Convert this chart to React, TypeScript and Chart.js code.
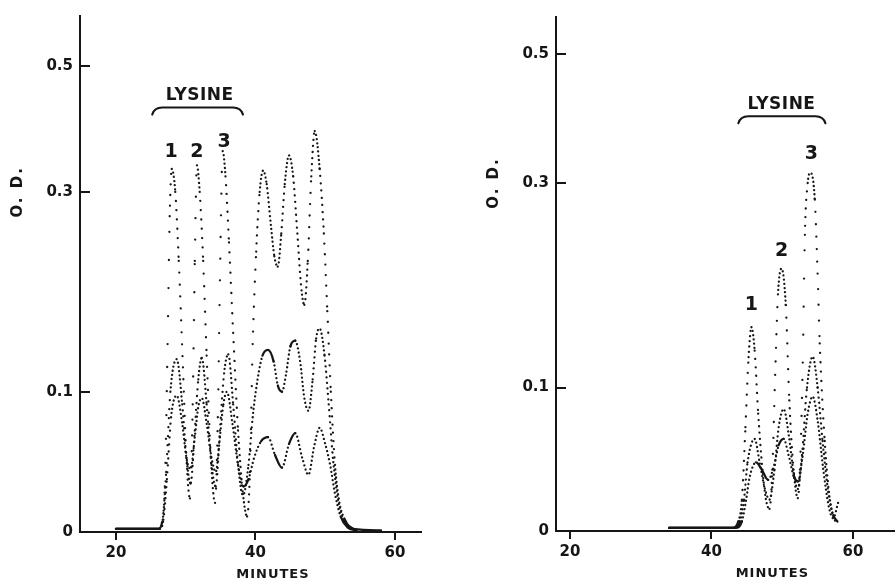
import React, { useEffect, useRef } from 'react';
import { Chart, registerables, LinearScale } from 'chart.js';

Chart.register(...registerables);

// ---- Y scale: chart paper is linear in transmittance, labelled in optical density ----
class TransmittanceScale extends LinearScale {
  static id = 'transmittance';
  static defaults = LinearScale.defaults;
  getPixelForValue(value: any) {
    if (value === null || value === undefined || Number.isNaN(value)) return NaN;
    const span = 1 - Math.pow(10, -this.max);
    return this.getPixelForDecimal((1 - Math.pow(10, -value)) / span);
  }
  getValueForPixel(pixel: number) {
    const span = 1 - Math.pow(10, -this.max);
    return -Math.log10(1 - this.getDecimalForPixel(pixel) * span);
  }
}
Chart.register(TransmittanceScale as any);

// ---------------- DATA ----------------
const xTickMinutes = [20, 40, 60];
const yTickOD = [0, 0.1, 0.3, 0.5];

// Left panel
const leftUpperMinutes = [20, 26.1, 26.6, 27.0, 27.4, 27.7, 28.0, 28.5, 29.0, 29.6, 30.1, 30.6, 31.0, 31.3, 31.6, 32.0, 32.5, 33.0, 33.6, 34.2, 34.6, 34.9, 35.3, 35.7, 36.2, 36.8, 37.5, 38.2, 38.8, 39.2, 39.6, 40.1, 40.6, 41.1, 41.6, 42.2, 42.7, 43.2, 43.7, 44.2, 44.8, 45.4, 46.0, 46.6, 47.0, 47.5, 48.0, 48.5, 49.2, 49.8, 50.3, 50.8, 51.4, 52.0, 52.8, 54.0, 58.0];
const leftUpperOD = [0.002, 0.002, 0.006, 0.03, 0.14, 0.27, 0.33, 0.3, 0.22, 0.12, 0.05, 0.022, 0.09, 0.22, 0.335, 0.3, 0.22, 0.13, 0.05, 0.019, 0.08, 0.2, 0.355, 0.32, 0.24, 0.15, 0.07, 0.025, 0.01, 0.04, 0.14, 0.23, 0.3, 0.328, 0.31, 0.26, 0.225, 0.214, 0.25, 0.31, 0.349, 0.32, 0.25, 0.19, 0.176, 0.22, 0.32, 0.385, 0.33, 0.25, 0.17, 0.1, 0.045, 0.02, 0.008, 0.002, 0.001];

const leftMiddleMinutes = [20, 26.2, 26.7, 27.2, 27.8, 28.7, 29.5, 30.1, 30.7, 31.3, 31.8, 32.3, 33.0, 33.7, 34.3, 34.9, 35.5, 36.1, 36.8, 37.5, 38.2, 39.0, 39.6, 40.3, 41.0, 41.8, 42.6, 43.2, 43.8, 44.4, 45.0, 45.7, 46.4, 47.0, 47.6, 48.2, 48.7, 49.2, 49.9, 50.5, 51.1, 51.8, 52.6, 54.0];
const leftMiddleOD = [0.002, 0.002, 0.008, 0.04, 0.1, 0.127, 0.09, 0.05, 0.032, 0.07, 0.11, 0.128, 0.09, 0.045, 0.03, 0.07, 0.115, 0.131, 0.09, 0.045, 0.024, 0.045, 0.08, 0.11, 0.13, 0.135, 0.125, 0.105, 0.1, 0.115, 0.138, 0.143, 0.125, 0.095, 0.085, 0.11, 0.145, 0.154, 0.13, 0.09, 0.05, 0.022, 0.008, 0.002];

const leftLowerMinutes = [20, 26.3, 26.8, 27.3, 27.9, 28.7, 29.5, 30.1, 30.7, 31.3, 31.8, 32.3, 33.0, 33.7, 34.3, 34.9, 35.4, 35.9, 36.7, 37.5, 38.3, 39.0, 39.8, 40.8, 41.8, 42.8, 43.8, 44.8, 45.7, 46.7, 47.6, 48.4, 49.2, 50.0, 50.7, 51.4, 52.2, 53.2, 54.5];
const leftLowerOD = [0.002, 0.002, 0.008, 0.035, 0.08, 0.097, 0.075, 0.05, 0.042, 0.065, 0.088, 0.095, 0.075, 0.05, 0.04, 0.065, 0.09, 0.1, 0.075, 0.045, 0.03, 0.035, 0.05, 0.062, 0.065, 0.052, 0.043, 0.06, 0.068, 0.05, 0.038, 0.058, 0.072, 0.06, 0.045, 0.025, 0.01, 0.003, 0.001];

// Right panel
const rightUpperMinutes = [34, 43.0, 43.8, 44.3, 44.8, 45.2, 45.65, 46.1, 46.6, 47.2, 47.7, 48.2, 48.6, 49.0, 49.4, 49.9, 50.5, 51.0, 51.6, 52.2, 52.5, 52.9, 53.2, 53.6, 54.0, 54.6, 55.0, 55.3, 56.0, 56.6, 57.1, 57.6];
const rightUpperOD = [0.002, 0.002, 0.006, 0.02, 0.07, 0.12, 0.15, 0.13, 0.08, 0.04, 0.02, 0.014, 0.04, 0.11, 0.18, 0.205, 0.17, 0.09, 0.04, 0.021, 0.04, 0.12, 0.24, 0.3, 0.313, 0.28, 0.2, 0.136, 0.06, 0.025, 0.011, 0.005];

const rightMiddleMinutes = [34, 43.2, 44.0, 44.6, 45.1, 46.1, 46.8, 47.5, 48.2, 48.9, 49.5, 50.2, 50.9, 51.6, 52.2, 52.8, 53.5, 54.3, 55.0, 55.7, 56.5, 57.2, 57.8];
const rightMiddleOD = [0.002, 0.002, 0.006, 0.02, 0.045, 0.0615, 0.045, 0.028, 0.02, 0.04, 0.07, 0.0835, 0.065, 0.038, 0.027, 0.05, 0.1, 0.125, 0.1, 0.06, 0.025, 0.01, 0.006];

const rightLowerMinutes = [34, 43.4, 44.3, 44.9, 45.4, 46.3, 47.1, 48.0, 48.8, 49.5, 50.2, 50.9, 51.6, 52.2, 52.9, 53.6, 54.3, 55.0, 55.8, 56.6, 57.2, 57.9];
const rightLowerOD = [0.002, 0.002, 0.006, 0.02, 0.035, 0.045, 0.04, 0.033, 0.042, 0.057, 0.0615, 0.05, 0.036, 0.032, 0.05, 0.08, 0.093, 0.075, 0.04, 0.015, 0.008, 0.018];

// Annotations (in data units: minutes / O.D.)
const peakNumbers = ['1', '2', '3'];
const leftPeakLabelMinutes = [27.9, 31.6, 35.5];
const leftPeakLabelOD = [0.354, 0.354, 0.369];
const rightPeakLabelMinutes = [45.65, 49.9, 54.1];
const rightPeakLabelOD = [0.17, 0.223, 0.338];

// ---------------- STYLE ----------------
const INK = '#161616';
const FONT = '"DejaVu Sans", "Noto Sans", sans-serif';
const DOT_INTERVAL_MIN = 0.067;

function trace(minutes: number[], od: number[]) {
  return {
    data: minutes.map((m, i) => ({ x: m, y: od[i] })),
    borderColor: INK,
    borderWidth: 2.3,
    borderCapStyle: 'round',
    borderJoinStyle: 'round',
    pointRadius: 0,
    pointHoverRadius: 0,
    fill: false,
    cubicInterpolationMode: 'monotone',
    segment: {
      borderDash: (ctx: any) => {
        const dt = minutes[ctx.p1DataIndex] - minutes[ctx.p0DataIndex];
        const dist = Math.hypot(ctx.p1.x - ctx.p0.x, ctx.p1.y - ctx.p0.y);
        const n = Math.max(1, dt / DOT_INTERVAL_MIN);
        const raw = dist / n;
        if (raw < 1.1) return [];
        return [0.01, Math.min(28, Math.max(4.2, raw))];
      },
    },
  };
}

type PanelSpec = {
  canvasLeft: number;
  canvasWidth: number;
  padTop: number;
  padRight: number;
  yAxisWidth: number;
  xAxisHeight: number;
  xMin: number;
  xMax: number;
  odMax: number;
  traces: any[];
  lysineMinute: number;
  lysineOD: number;
  bracketStart: number;
  bracketEnd: number;
  bracketOD: number;
  peakMinutes: number[];
  peakOD: number[];
  titleMinute: number;
};

const panels: PanelSpec[] = [
  {
    canvasLeft: 0,
    canvasWidth: 447,
    padTop: 13,
    padRight: 26,
    yAxisWidth: 80,
    xAxisHeight: 50,
    xMin: 14.84,
    xMax: 63.73,
    odMax: 0.6137,
    traces: [
      trace(leftUpperMinutes, leftUpperOD),
      trace(leftMiddleMinutes, leftMiddleOD),
      trace(leftLowerMinutes, leftLowerOD),
    ],
    lysineMinute: 32.0,
    lysineOD: 0.444,
    bracketStart: 25.2,
    bracketEnd: 38.2,
    bracketOD: 0.423,
    peakMinutes: leftPeakLabelMinutes,
    peakOD: leftPeakLabelOD,
    titleMinute: 42.5,
  },
  {
    canvasLeft: 447,
    canvasWidth: 448,
    padTop: 17,
    padRight: 0,
    yAxisWidth: 109,
    xAxisHeight: 51,
    xMin: 18.02,
    xMax: 65.94,
    odMax: 0.5797,
    traces: [
      trace(rightUpperMinutes, rightUpperOD),
      trace(rightMiddleMinutes, rightMiddleOD),
      trace(rightLowerMinutes, rightLowerOD),
    ],
    lysineMinute: 49.9,
    lysineOD: 0.411,
    bracketStart: 43.8,
    bracketEnd: 56.1,
    bracketOD: 0.392,
    peakMinutes: rightPeakLabelMinutes,
    peakOD: rightPeakLabelOD,
    titleMinute: 48.6,
  },
];

function annotationPlugin(p: PanelSpec) {
  return {
    id: 'odAnnotations',
    afterDraw(chart: any) {
      const { ctx, chartArea, scales } = chart;
      const xs = scales.x;
      const ys = scales.y;
      ctx.save();
      ctx.fillStyle = INK;
      ctx.strokeStyle = INK;
      ctx.lineCap = 'butt';

      // inward y tick marks
      ctx.lineWidth = 2;
      for (const v of yTickOD) {
        if (v === 0) continue;
        const y = Math.round(ys.getPixelForValue(v));
        ctx.beginPath();
        ctx.moveTo(chartArea.left, y);
        ctx.lineTo(chartArea.left + 10, y);
        ctx.stroke();
      }

      // LYSINE + bracket
      ctx.textAlign = 'center';
      ctx.textBaseline = 'middle';
      ctx.font = `bold 17px ${FONT}`;
      (ctx as any).letterSpacing = '0.5px';
      ctx.fillText('LYSINE', xs.getPixelForValue(p.lysineMinute), ys.getPixelForValue(p.lysineOD));
      (ctx as any).letterSpacing = '0px';

      const bx0 = xs.getPixelForValue(p.bracketStart);
      const bx1 = xs.getPixelForValue(p.bracketEnd);
      const by = ys.getPixelForValue(p.bracketOD);
      ctx.lineWidth = 2.2;
      ctx.lineCap = 'round';
      ctx.beginPath();
      ctx.moveTo(bx0, by + 7);
      ctx.quadraticCurveTo(bx0 + 2, by, bx0 + 10, by);
      ctx.lineTo(bx1 - 10, by);
      ctx.quadraticCurveTo(bx1 - 2, by, bx1, by + 7);
      ctx.stroke();

      // peak numbers
      ctx.font = `bold 19px ${FONT}`;
      peakNumbers.forEach((t, i) => {
        ctx.fillText(t, xs.getPixelForValue(p.peakMinutes[i]), ys.getPixelForValue(p.peakOD[i]));
      });

      // axis titles
      ctx.font = `bold 13px ${FONT}`;
      (ctx as any).letterSpacing = '1px';
      ctx.fillText('MINUTES', xs.getPixelForValue(p.titleMinute), chartArea.bottom + 43);
      ctx.translate(chartArea.left - 62, ys.getPixelForValue(0.3));
      ctx.rotate(-Math.PI / 2);
      ctx.font = `bold 15px ${FONT}`;
      (ctx as any).letterSpacing = '2px';
      ctx.fillText('O. D.', 0, 0);
      (ctx as any).letterSpacing = '0px';
      ctx.restore();
    },
  };
}

function buildConfig(p: PanelSpec): any {
  return {
    type: 'line',
    data: { datasets: p.traces },
    options: {
      animation: false,
      responsive: false,
      maintainAspectRatio: false,
      events: [],
      layout: { padding: { top: p.padTop, right: p.padRight, left: 0, bottom: 0 } },
      plugins: { legend: { display: false }, tooltip: { enabled: false } },
      scales: {
        x: {
          type: 'linear',
          min: p.xMin,
          max: p.xMax,
          bounds: 'data',
          afterBuildTicks: (s: any) => {
            s.ticks = xTickMinutes.map((v) => ({ value: v }));
          },
          afterFit: (s: any) => {
            s.height = p.xAxisHeight;
          },
          grid: { drawOnChartArea: false, drawTicks: true, tickLength: 8, color: INK, lineWidth: 2 },
          border: { display: true, color: INK, width: 2 },
          ticks: {
            autoSkip: false,
            maxRotation: 0,
            color: INK,
            padding: 4,
            font: { family: FONT, size: 15, weight: 'bold' },
            callback: (v: number) => String(v),
          },
        },
        y: {
          type: 'transmittance',
          min: 0,
          max: p.odMax,
          bounds: 'data',
          afterBuildTicks: (s: any) => {
            s.ticks = yTickOD.map((v) => ({ value: v }));
          },
          afterFit: (s: any) => {
            s.width = p.yAxisWidth;
          },
          grid: { display: false, drawTicks: false },
          border: { display: true, color: INK, width: 2 },
          ticks: {
            autoSkip: false,
            color: INK,
            padding: 7,
            font: { family: FONT, size: 15, weight: 'bold' },
            callback: (v: number) => (v === 0 ? '0' : v.toFixed(1)),
          },
        },
      },
    },
    plugins: [annotationPlugin(p)],
  };
}

function Panel({ spec }: { spec: PanelSpec }) {
  const ref = useRef<HTMLCanvasElement>(null);
  useEffect(() => {
    if (!ref.current) return;
    const chart = new Chart(ref.current, buildConfig(spec));
    return () => chart.destroy();
  }, [spec]);
  return (
    <canvas
      ref={ref}
      width={spec.canvasWidth}
      height={582}
      style={{ position: 'absolute', left: spec.canvasLeft, top: 0, width: spec.canvasWidth, height: 582 }}
    />
  );
}

export default function App() {
  return (
    <div style={{ position: 'fixed', left: 0, top: 0, width: 895, height: 582, background: '#fff', overflow: 'hidden' }}>
      {panels.map((p, i) => (
        <Panel key={i} spec={p} />
      ))}
    </div>
  );
}
